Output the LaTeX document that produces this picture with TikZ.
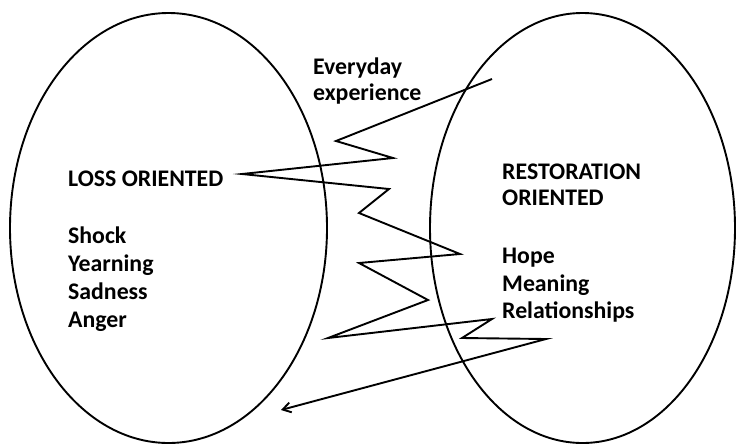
\documentclass[tikz,border=0pt]{standalone}
\usepackage{fontspec}
\setmainfont{Carlito}
\usetikzlibrary{arrows.meta}
\begin{document}
\begin{tikzpicture}[x=1pt,y=-1pt,
  oval/.style={draw=black,line width=1.9pt},
  zig/.style={draw=black,line width=1.9pt,line join=miter},
  lbl/.style={anchor=base west,inner sep=0pt,font=\bfseries\fontsize{23.8}{28}\selectfont}]
\useasboundingbox (0,0) rectangle (736,445);
\draw[oval] (168.5,228) ellipse [x radius=158.5, y radius=215];
\draw[oval] (582.5,228) ellipse [x radius=152.5, y radius=215];
\node[lbl] (ev1) at (313,74) {Everyday};
\node[lbl] (ev2) at (313,100) {experience};
\node[lbl] (lo) at (68,186) {LOSS ORIENTED};
\node[lbl] (l1) at (68,243) {Shock};
\node[lbl] (l2) at (68,271) {Yearning};
\node[lbl] (l3) at (68,299) {Sadness};
\node[lbl] (l4) at (68,327) {Anger};
\node[lbl] (ro1) at (502,179) {RESTORATION};
\node[lbl] (ro2) at (502,205) {ORIENTED};
\node[lbl] (r1) at (502,263) {Hope};
\node[lbl] (r2) at (502,291) {Meaning};
\node[lbl] (r3) at (502,318) {Relationships};
\coordinate (z0) at (492,79);
\coordinate (z1) at (336,141);
\coordinate (z2) at (393,158);
\coordinate (z3) at (242,174);
\coordinate (z4) at (389,189);
\coordinate (z5) at (359,213);
\coordinate (z6) at (460,254);
\coordinate (z7) at (359,263);
\coordinate (z8) at (428,300);
\coordinate (z9) at (328,338);
\coordinate (z10) at (492,319);
\coordinate (z11) at (462,338);
\coordinate (z12) at (546,339);
\coordinate (z13) at (281,410);
\draw[zig,-{Straight Barb[length=8pt,width=10pt]}] (z0) -- (z1) -- (z2) -- (z3) -- (z4) -- (z5) -- (z6) -- (z7) -- (z8) -- (z9) -- (z10) -- (z11) -- (z12) -- (z13);
\end{tikzpicture}
\end{document}
